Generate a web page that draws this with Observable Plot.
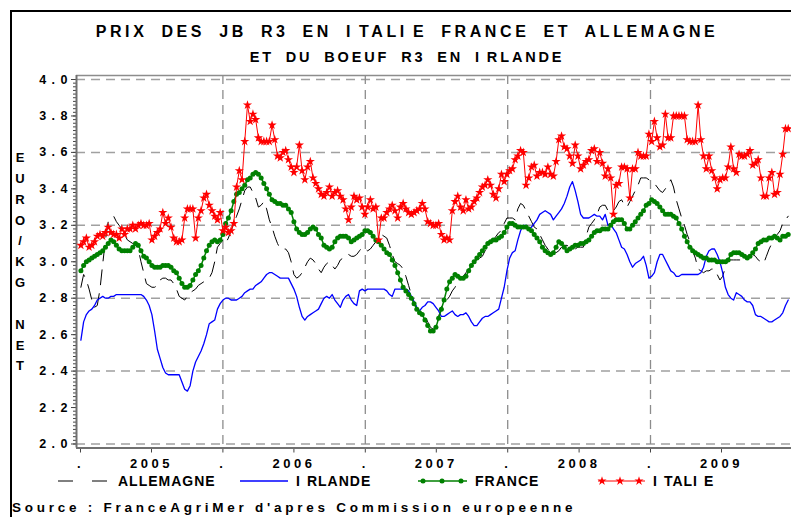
<!DOCTYPE html>
<html>
<head>
<meta charset="utf-8">
<script src="https://cdn.jsdelivr.net/npm/d3@7"></script>
<script src="https://cdn.jsdelivr.net/npm/@observablehq/plot@0.6"></script>
<style>
html, body { margin:0; padding:0; background:#fff; overflow:hidden; }
#page { position:relative; width:791px; height:517px; overflow:hidden; font-family:"Liberation Sans", Arial, sans-serif; font-weight:bold; color:#000; }
#border { position:absolute; left:10px; top:10px; width:1000px; height:1000px; border:2px solid #000; box-sizing:border-box; }
#chart { position:absolute; left:0; top:0; }
.title { position:absolute; left:0; width:814px; text-align:center; white-space:pre; }
.title .gi { margin-right:5px; }
#t1 { top:22px; font-size:16px; line-height:20px; letter-spacing:3.6px; word-spacing:6px; }
#t2 { top:48px; font-size:14.5px; line-height:18px; letter-spacing:2.85px; word-spacing:5px; }
#ylab { position:absolute; left:13px; top:148px; width:14px; text-align:center; font-size:13px; line-height:20.85px; white-space:pre; }
#legend { position:absolute; left:0; top:470px; }
#source { position:absolute; left:12px; top:500px; font-size:13.5px; line-height:16px; letter-spacing:3.75px; white-space:pre; }
#chart g[aria-label="y-axis tick label"] { letter-spacing:1px; }
#chart g[aria-label="x-axis tick label"] { letter-spacing:3.5px; }
</style>
</head>
<body>
<div id="page">
  <div id="border"></div>
  <div id="chart"></div>
  <div class="title" id="t1">PRIX DES JB R3 EN <span class="gi">I</span>TAL<span class="gi">I</span>E FRANCE ET ALLEMAGNE</div>
  <div class="title" id="t2">ET DU BOEUF R3 EN <span class="gi">I</span>RLANDE</div>
  <div id="ylab">E
U
R
O
/
K
G
 
N
E
T</div>
  <svg id="legend" width="791" height="26"></svg>
  <div id="source">Source : FranceAgriMer d'apres Commission europeenne</div>
</div>
<script>
// ---- weekly prices, EURO/KG NET (first week: early January 2005) ----
const allemagne = [
  2.86,2.93,2.90,2.85,2.79,2.75,2.76,2.85,2.99,3.12,3.22,3.24,3.25,3.22,3.20,3.18,3.15,3.12,3.11,3.10,3.09,3.07,3.00,2.94,2.88,2.87,2.86,2.86,2.87,2.90,2.91,2.91,2.90,2.90,2.88,2.85,2.81,2.80,2.79,2.81,2.83,2.84,2.85,2.87,2.88,2.89,2.90,2.91,2.94,3.00,3.08,3.10,
  3.12,3.10,3.13,3.17,3.21,3.25,3.29,3.34,3.39,3.41,3.41,3.38,3.35,3.30,3.31,3.33,3.29,3.23,3.19,3.14,3.10,3.07,3.07,3.07,3.05,3.00,2.93,2.91,2.92,2.94,2.97,3.00,3.02,3.01,2.99,2.96,2.94,2.97,2.99,3.00,2.98,2.96,2.98,3.01,3.02,3.04,3.04,3.03,3.03,3.04,3.06,3.08,
  3.07,3.06,3.07,3.09,3.11,3.13,3.15,3.14,3.13,3.09,3.04,3.00,2.99,2.98,2.96,2.92,2.87,2.82,2.78,2.75,2.73,2.72,2.70,2.67,2.64,2.63,2.64,2.70,2.75,2.78,2.79,2.81,2.84,2.86,2.89,2.90,2.92,2.94,2.96,2.98,3.00,3.01,3.02,3.03,3.06,3.08,3.10,3.12,3.14,3.16,3.17,3.21,
  3.24,3.24,3.24,3.23,3.29,3.32,3.31,3.28,3.25,3.22,3.19,3.18,3.15,3.12,3.09,3.07,3.05,3.05,3.05,3.06,3.08,3.09,3.09,3.08,3.07,3.07,3.08,3.08,3.08,3.14,3.19,3.21,3.23,3.26,3.30,3.31,3.31,3.28,3.27,3.28,3.30,3.33,3.34,3.31,3.30,3.33,3.36,3.39,3.42,3.46,3.46,3.46,
  3.45,3.44,3.43,3.41,3.39,3.38,3.40,3.42,3.45,3.41,3.34,3.29,3.24,3.20,3.15,3.11,3.06,3.02,2.96,2.95,2.94,2.95,2.95,2.96,2.96,2.93,2.90,2.92,2.97,3.01,3.01,3.01,3.01,3.01,3.01,3.02,3.03,3.04,3.04,3.03,3.01,3.00,2.99,3.03,3.07,3.10,3.13,3.15,3.17,3.21,3.23,3.25
];
const irlande = [
  2.57,2.67,2.71,2.73,2.74,2.76,2.79,2.80,2.81,2.80,2.80,2.81,2.81,2.82,2.82,2.82,2.82,2.82,2.82,2.82,2.82,2.82,2.82,2.81,2.79,2.76,2.71,2.62,2.52,2.47,2.42,2.39,2.38,2.38,2.38,2.38,2.38,2.34,2.30,2.29,2.32,2.40,2.45,2.48,2.51,2.55,2.60,2.66,2.67,2.68,2.74,2.77,
  2.79,2.80,2.80,2.79,2.79,2.79,2.80,2.81,2.83,2.84,2.85,2.85,2.87,2.88,2.89,2.91,2.93,2.94,2.94,2.93,2.92,2.91,2.91,2.91,2.91,2.88,2.85,2.81,2.75,2.70,2.68,2.70,2.71,2.72,2.73,2.74,2.77,2.80,2.81,2.80,2.82,2.79,2.77,2.75,2.79,2.81,2.82,2.79,2.77,2.76,2.84,2.85,
  2.84,2.85,2.85,2.85,2.85,2.85,2.85,2.85,2.84,2.82,2.81,2.85,2.85,2.85,2.85,2.85,2.84,2.81,2.78,2.75,2.73,2.75,2.76,2.78,2.78,2.77,2.75,2.73,2.70,2.70,2.71,2.72,2.73,2.71,2.70,2.71,2.71,2.72,2.70,2.67,2.65,2.65,2.67,2.69,2.70,2.70,2.71,2.72,2.73,2.74,2.80,2.86,
  2.95,3.02,3.05,3.06,3.12,3.17,3.20,3.20,3.18,3.19,3.21,3.23,3.26,3.27,3.28,3.27,3.26,3.23,3.25,3.27,3.29,3.32,3.36,3.41,3.44,3.39,3.33,3.26,3.24,3.24,3.24,3.25,3.26,3.25,3.25,3.23,3.26,3.20,3.21,3.18,3.16,3.12,3.08,3.07,3.04,3.00,2.97,2.99,3.00,3.01,3.03,2.98,
  2.91,2.92,2.94,3.00,3.04,3.04,3.01,2.98,2.95,2.94,2.92,2.92,2.93,2.93,2.93,2.93,2.93,2.93,2.93,2.94,2.97,3.03,3.06,3.07,3.07,3.04,3.00,2.94,2.86,2.82,2.80,2.79,2.83,2.82,2.81,2.79,2.78,2.78,2.76,2.71,2.70,2.70,2.69,2.68,2.67,2.67,2.68,2.69,2.70,2.72,2.76,2.79
];
const france = [
  2.95,2.98,3.00,3.01,3.02,3.03,3.04,3.05,3.06,3.08,3.10,3.12,3.11,3.09,3.07,3.06,3.06,3.06,3.06,3.08,3.10,3.09,3.06,3.03,3.02,3.00,2.98,2.97,2.97,2.97,2.98,2.98,2.98,2.97,2.95,2.94,2.91,2.88,2.86,2.86,2.87,2.90,2.93,2.95,2.98,3.02,3.06,3.09,3.11,3.12,3.11,3.12,
  3.15,3.21,3.24,3.28,3.33,3.37,3.38,3.40,3.42,3.45,3.46,3.48,3.49,3.48,3.46,3.43,3.40,3.37,3.34,3.33,3.32,3.32,3.31,3.31,3.29,3.27,3.22,3.18,3.16,3.15,3.15,3.16,3.18,3.19,3.18,3.15,3.13,3.09,3.08,3.07,3.08,3.11,3.13,3.14,3.14,3.14,3.13,3.11,3.12,3.13,3.14,3.15,
  3.17,3.17,3.16,3.14,3.12,3.11,3.09,3.07,3.05,3.04,3.01,2.98,2.94,2.90,2.86,2.84,2.82,2.80,2.77,2.74,2.72,2.71,2.68,2.65,2.62,2.62,2.64,2.69,2.74,2.79,2.85,2.89,2.91,2.93,2.92,2.91,2.91,2.92,2.95,2.98,3.00,3.02,3.04,3.06,3.08,3.10,3.11,3.12,3.12,3.13,3.14,3.16,
  3.19,3.21,3.21,3.20,3.19,3.19,3.19,3.19,3.18,3.17,3.15,3.13,3.11,3.08,3.06,3.05,3.04,3.05,3.08,3.11,3.10,3.08,3.06,3.07,3.08,3.09,3.09,3.10,3.10,3.11,3.12,3.14,3.16,3.17,3.17,3.18,3.18,3.18,3.20,3.22,3.23,3.23,3.23,3.21,3.18,3.18,3.20,3.22,3.24,3.26,3.28,3.31,
  3.32,3.34,3.33,3.32,3.30,3.28,3.26,3.26,3.26,3.25,3.24,3.21,3.18,3.14,3.11,3.08,3.06,3.05,3.04,3.03,3.02,3.02,3.01,3.01,3.01,3.00,3.00,3.00,3.00,3.01,3.04,3.05,3.05,3.05,3.04,3.03,3.02,3.03,3.05,3.07,3.10,3.11,3.12,3.12,3.13,3.13,3.14,3.13,3.12,3.14,3.14,3.15
];
const italie = [
  3.09,3.11,3.13,3.08,3.09,3.11,3.14,3.15,3.14,3.16,3.19,3.16,3.15,3.15,3.13,3.18,3.15,3.18,3.18,3.20,3.18,3.20,3.21,3.20,3.20,3.21,3.12,3.14,3.16,3.18,3.27,3.21,3.24,3.19,3.13,3.11,3.11,3.12,3.24,3.29,3.29,3.29,3.13,3.24,3.28,3.35,3.37,3.31,3.28,3.25,3.23,3.27,
  3.17,3.19,3.16,3.17,3.21,3.41,3.50,3.45,3.66,3.86,3.77,3.81,3.78,3.68,3.66,3.66,3.66,3.66,3.75,3.67,3.58,3.57,3.60,3.61,3.56,3.52,3.49,3.52,3.64,3.50,3.45,3.52,3.55,3.46,3.43,3.40,3.37,3.36,3.38,3.41,3.36,3.38,3.39,3.36,3.34,3.29,3.23,3.30,3.36,3.34,3.35,3.30,
  3.26,3.30,3.34,3.29,3.30,3.12,3.24,3.24,3.27,3.29,3.31,3.28,3.24,3.30,3.32,3.29,3.27,3.26,3.27,3.28,3.29,3.32,3.29,3.22,3.21,3.20,3.20,3.21,3.15,3.12,3.13,3.12,3.28,3.33,3.36,3.30,3.28,3.34,3.29,3.30,3.33,3.35,3.38,3.41,3.42,3.45,3.42,3.37,3.35,3.40,3.48,3.44,
  3.48,3.50,3.51,3.56,3.58,3.61,3.60,3.42,3.46,3.52,3.53,3.47,3.49,3.49,3.48,3.52,3.48,3.47,3.55,3.67,3.69,3.63,3.62,3.58,3.54,3.64,3.58,3.51,3.53,3.55,3.56,3.61,3.62,3.55,3.60,3.54,3.47,3.51,3.46,3.26,3.42,3.43,3.52,3.52,3.51,3.35,3.51,3.51,3.60,3.58,3.58,3.58,
  3.70,3.66,3.77,3.68,3.63,3.64,3.81,3.68,3.68,3.80,3.80,3.80,3.80,3.80,3.67,3.66,3.66,3.66,3.86,3.67,3.58,3.51,3.58,3.50,3.46,3.40,3.45,3.46,3.46,3.52,3.63,3.51,3.49,3.59,3.58,3.58,3.59,3.61,3.53,3.54,3.56,3.46,3.36,3.36,3.46,3.49,3.37,3.38,3.48,3.59,3.73,3.73
];

const years = [2005, 2006, 2007, 2008, 2009];
const yTickLabels = [2.0, 2.2, 2.4, 2.6, 2.8, 3.0, 3.2, 3.4, 3.6, 3.8, 4.0];
const yGridLines = [2.0, 2.4, 2.8, 3.2, 3.6, 4.0];
const legendNames = ["ALLEMAGNE", "IRLANDE", "FRANCE", "ITALIE"];

// ---- build tables ----
const DAY = 864e5;
const firstWeek = Date.UTC(2005, 0, 2);
const toRows = vals => vals.map((v, i) => ({date: new Date(firstWeek + i * 7 * DAY), value: v}));
const rowsA = toRows(allemagne), rowsI = toRows(irlande), rowsF = toRows(france), rowsT = toRows(italie);

const xDomain = [new Date(Date.UTC(2004, 11, 21, 18)), new Date(Date.UTC(2009, 11, 28, 10))];
const yDomain = [1.978, 4.022];
const yearStarts = years.map(y => new Date(Date.UTC(y, 0, 1)));
const yearMids = years.map(y => new Date(Date.UTC(y, 6, 2)));
const yearGrid = yearStarts.slice(1);
const minorTicks = d3.range(0, 101).map(k => Math.round((2 + k * 0.02) * 100) / 100);

const chart = Plot.plot({
  width: 791, height: 472,
  marginTop: 75, marginLeft: 76, marginRight: 0, marginBottom: 24.5,
  x: {type: "utc", domain: xDomain, axis: null, label: null},
  y: {domain: yDomain, axis: null, label: null},
  style: {fontFamily: "'Liberation Sans', Arial, sans-serif", fontSize: "12.5px", fontWeight: "bold", color: "#000", background: "transparent", overflow: "visible"},
  marks: [
    Plot.gridY(yGridLines, {stroke: "#a0a0a0", strokeOpacity: 1, strokeWidth: 1.5, strokeDasharray: "9,6"}),
    Plot.gridX(yearGrid, {stroke: "#8c8c8c", strokeOpacity: 1, strokeWidth: 1.3, strokeDasharray: "9,6"}),
    Plot.ruleY([yDomain[1]], {stroke: "#8c8c8c", strokeWidth: 1.5}),
    Plot.axisY(minorTicks, {tickSize: 3, tickFormat: () => "", stroke: "#444", label: null}),
    Plot.axisY(yTickLabels, {tickSize: 5, tickPadding: 3, stroke: "#444", label: null, fontWeight: "bold", fontSize: 12.5,
      tickFormat: d => d.toFixed(1).split("").join(" ")}),
    Plot.axisX(yearStarts, {tickSize: 5, tickPadding: 6, stroke: "#444", label: null, fontWeight: "bold", fontSize: 13, tickFormat: () => "."}),
    Plot.axisX(yearMids, {tickSize: 5, tickPadding: 6, stroke: "#444", label: null, fontWeight: "bold", fontSize: 13, tickFormat: d => String(d.getUTCFullYear())}),
    Plot.ruleX([xDomain[0]], {stroke: "#707070", strokeWidth: 2}),
    Plot.ruleY([yDomain[0]], {stroke: "#707070", strokeWidth: 2}),
    Plot.line(rowsA, {x: "date", y: "value", stroke: "#000", strokeWidth: 1, strokeDasharray: "15,9"}),
    Plot.line(rowsI, {x: "date", y: "value", stroke: "#0000ff", strokeWidth: 1.3}),
    Plot.line(rowsF, {x: "date", y: "value", stroke: "#008000", strokeWidth: 1.5}),
    Plot.dot(rowsF, {x: "date", y: "value", r: 2.5, fill: "#008000"}),
    Plot.line(rowsT, {x: "date", y: "value", stroke: "#ff0000", strokeWidth: 1}),
    Plot.dot(rowsT, {x: "date", y: "value", r: 2.9, symbol: "star", fill: "#ff0000"})
  ]
});
document.getElementById("chart").appendChild(chart);

// ---- legend ----
const lg = d3.select("#legend");
const ly = 11;
const textY = 16;
const font = {"font-family": "'Liberation Sans', Arial, sans-serif", "font-size": "14px", "font-weight": "bold", "letter-spacing": "1px"};
function addText(x, s) {
  const t = lg.append("text").attr("x", x).attr("y", textY);
  for (const k in font) t.attr(k, font[k]);
  // the source font leaves a wide gap after every capital I
  const parts = s.split(/(?<=I)/);
  parts.forEach((p, i) => t.append("tspan").attr("dx", i === 0 ? 0 : 6).text(p));
}
lg.append("line").attr("x1", 58).attr("x2", 108).attr("y1", ly).attr("y2", ly).attr("stroke", "#000").attr("stroke-width", 1).attr("stroke-dasharray", "15,19");
addText(118, legendNames[0]);
lg.append("line").attr("x1", 240).attr("x2", 288).attr("y1", ly).attr("y2", ly).attr("stroke", "#0000ff").attr("stroke-width", 1.3);
addText(296, legendNames[1]);
lg.append("line").attr("x1", 418).attr("x2", 467).attr("y1", ly).attr("y2", ly).attr("stroke", "#008000").attr("stroke-width", 1.5);
for (const cx of [423, 442, 461]) lg.append("circle").attr("cx", cx).attr("cy", ly).attr("r", 2.5).attr("fill", "#008000");
addText(475, legendNames[2]);
lg.append("line").attr("x1", 598).attr("x2", 645).attr("y1", ly).attr("y2", ly).attr("stroke", "#ff0000").attr("stroke-width", 1);
const star = d3.symbol(d3.symbolStar, 26)();
for (const cx of [602, 620, 639]) lg.append("path").attr("d", star).attr("transform", `translate(${cx},${ly})`).attr("fill", "#ff0000");
addText(653, legendNames[3]);
</script>
</body>
</html>
